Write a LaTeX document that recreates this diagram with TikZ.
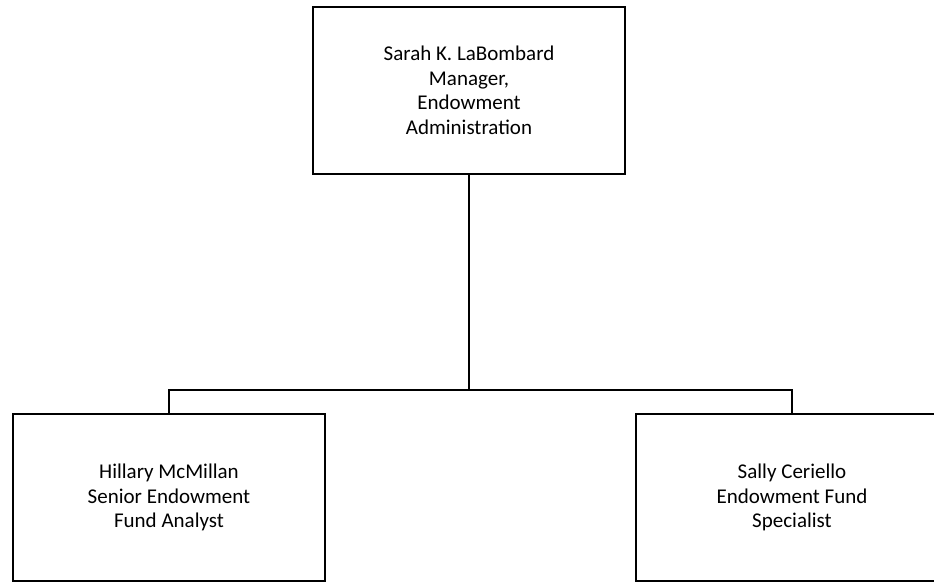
\documentclass[tikz,border=0pt]{standalone}
\usepackage{fontspec}
\setmainfont{Carlito}
\usetikzlibrary{positioning}

\begin{document}
\begin{tikzpicture}[x=1pt,y=-1pt,every node/.style={font=\fontsize{21}{24.5}\selectfont},
  post/.style={draw,line width=1.6pt,minimum width=312pt,minimum height=167pt,align=center,inner sep=0pt},
  link/.style={line width=2.6pt}]
\clip (0,0) rectangle (934,582);
\node[post] (mgr) at (469,90.5) {Sarah K. LaBombard\\Manager,\\Endowment\\Administration};
\node[post] (analyst) at (169,497.5) {Hillary McMillan\\Senior Endowment\\Fund Analyst};
\node[post] (spec) at (792,497.5) {Sally Ceriello\\Endowment Fund\\Specialist};
\coordinate (bar) at (469,390);
\draw[link] (mgr.south) -- (bar);
\draw[link] (analyst.north) |- (bar) -| (spec.north);
\end{tikzpicture}
\end{document}
